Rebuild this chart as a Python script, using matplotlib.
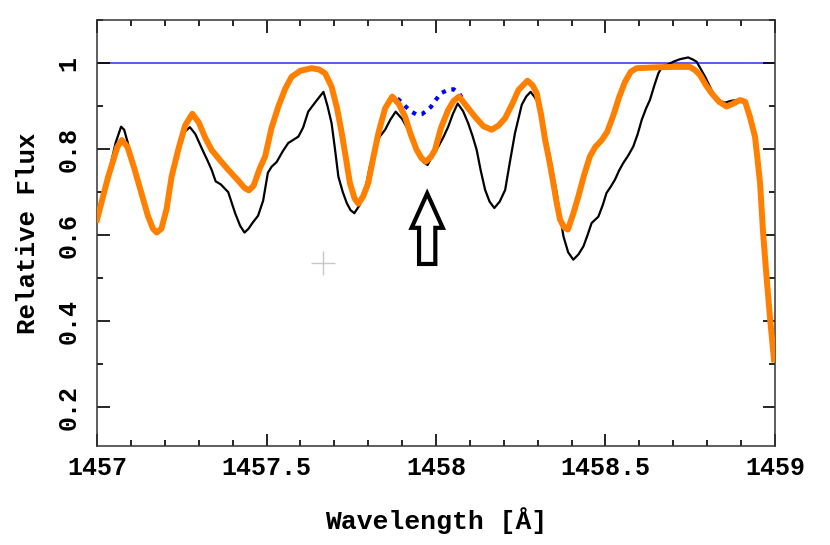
import matplotlib
matplotlib.use("Agg")
import matplotlib.pyplot as plt
from matplotlib.patches import Polygon
from matplotlib.ticker import MultipleLocator

# observed spectrum (black)
obs_wave = [1457.000, 1457.033, 1457.055, 1457.071, 1457.080, 1457.091, 1457.110, 1457.130, 1457.150, 1457.165,
            1457.176, 1457.190, 1457.205, 1457.220, 1457.240, 1457.258, 1457.274, 1457.290, 1457.310, 1457.325,
            1457.338, 1457.350, 1457.365, 1457.387, 1457.407, 1457.422, 1457.435, 1457.447, 1457.460, 1457.475,
            1457.490, 1457.504, 1457.515, 1457.530, 1457.548, 1457.564, 1457.580, 1457.594, 1457.608, 1457.623,
            1457.645, 1457.668, 1457.680, 1457.692, 1457.702, 1457.712, 1457.725, 1457.737, 1457.748, 1457.759,
            1457.775, 1457.791, 1457.805, 1457.820, 1457.835, 1457.850, 1457.865, 1457.881, 1457.900, 1457.918,
            1457.933, 1457.948, 1457.962, 1457.975, 1457.990, 1458.007, 1458.022, 1458.036, 1458.050, 1458.064,
            1458.080, 1458.095, 1458.108, 1458.120, 1458.132, 1458.145, 1458.158, 1458.172, 1458.188, 1458.204,
            1458.218, 1458.233, 1458.253, 1458.266, 1458.279, 1458.290, 1458.302, 1458.317, 1458.332, 1458.345,
            1458.356, 1458.366, 1458.376, 1458.390, 1458.405, 1458.420, 1458.435, 1458.447, 1458.459, 1458.479,
            1458.492, 1458.503, 1458.515, 1458.528, 1458.540, 1458.552, 1458.567, 1458.582, 1458.595, 1458.607,
            1458.620, 1458.631, 1458.645, 1458.656, 1458.668, 1458.680, 1458.700, 1458.720, 1458.744, 1458.758,
            1458.769, 1458.782, 1458.794, 1458.808, 1458.823, 1458.838, 1458.853, 1458.870, 1458.887, 1458.900,
            1458.912, 1458.926, 1458.941, 1458.956, 1458.965, 1458.975, 1458.985, 1458.997]
obs_flux = [0.640, 0.740, 0.815, 0.852, 0.845, 0.814, 0.755, 0.700, 0.645, 0.612,
            0.604, 0.612, 0.660, 0.736, 0.800, 0.840, 0.851, 0.835, 0.800, 0.775,
            0.752, 0.725, 0.718, 0.700, 0.652, 0.622, 0.606, 0.615, 0.630, 0.645,
            0.680, 0.745, 0.759, 0.770, 0.795, 0.814, 0.822, 0.829, 0.850, 0.887,
            0.910, 0.933, 0.900, 0.860, 0.800, 0.736, 0.700, 0.674, 0.658, 0.651,
            0.670, 0.705, 0.760, 0.806, 0.830, 0.845, 0.868, 0.887, 0.870, 0.845,
            0.818, 0.790, 0.770, 0.763, 0.785, 0.806, 0.828, 0.852, 0.882, 0.906,
            0.888, 0.860, 0.830, 0.798, 0.750, 0.705, 0.678, 0.663, 0.678, 0.705,
            0.770, 0.837, 0.903, 0.922, 0.933, 0.922, 0.906, 0.855, 0.798, 0.745,
            0.698, 0.645, 0.597, 0.560, 0.543, 0.555, 0.574, 0.600, 0.628, 0.643,
            0.670, 0.698, 0.712, 0.729, 0.750, 0.767, 0.785, 0.806, 0.835, 0.868,
            0.895, 0.914, 0.950, 0.976, 0.993, 0.995, 1.003, 1.009, 1.013, 1.008,
            1.003, 0.985, 0.968, 0.945, 0.922, 0.912, 0.908, 0.912, 0.914, 0.914,
            0.910, 0.875, 0.829, 0.721, 0.605, 0.500, 0.405, 0.330]

# model spectra (orange and blue dotted share the wavelength grid)
model_wave = [1457.000, 1457.033, 1457.060, 1457.073, 1457.090, 1457.110, 1457.130, 1457.150, 1457.165, 1457.176,
              1457.190, 1457.205, 1457.220, 1457.240, 1457.260, 1457.281, 1457.300, 1457.320, 1457.338, 1457.362,
              1457.387, 1457.415, 1457.435, 1457.448, 1457.462, 1457.480, 1457.496, 1457.515, 1457.535, 1457.555,
              1457.574, 1457.600, 1457.633, 1457.655, 1457.673, 1457.692, 1457.708, 1457.722, 1457.735, 1457.746,
              1457.760, 1457.771, 1457.785, 1457.800, 1457.815, 1457.830, 1457.850, 1457.871, 1457.890, 1457.909,
              1457.925, 1457.943, 1457.958, 1457.970, 1457.985, 1457.997, 1458.015, 1458.036, 1458.052, 1458.068,
              1458.090, 1458.115, 1458.140, 1458.164, 1458.185, 1458.204, 1458.225, 1458.243, 1458.270, 1458.285,
              1458.297, 1458.310, 1458.322, 1458.335, 1458.346, 1458.356, 1458.366, 1458.378, 1458.389, 1458.405,
              1458.420, 1458.437, 1458.454, 1458.470, 1458.489, 1458.505, 1458.523, 1458.540, 1458.558, 1458.575,
              1458.592, 1458.650, 1458.700, 1458.749, 1458.765, 1458.779, 1458.795, 1458.813, 1458.835, 1458.857,
              1458.875, 1458.897, 1458.912, 1458.926, 1458.941, 1458.948, 1458.956, 1458.965, 1458.975, 1458.985,
              1458.997]
model2_flux = [0.636, 0.736, 0.805, 0.821, 0.805, 0.755, 0.700, 0.645, 0.615, 0.606,
               0.615, 0.660, 0.736, 0.800, 0.855, 0.882, 0.862, 0.825, 0.798, 0.775,
               0.752, 0.728, 0.710, 0.704, 0.715, 0.755, 0.783, 0.850, 0.899, 0.940,
               0.968, 0.982, 0.988, 0.985, 0.976, 0.945, 0.895, 0.837, 0.775, 0.721,
               0.685, 0.673, 0.690, 0.721, 0.780, 0.837, 0.895, 0.922, 0.905, 0.875,
               0.835, 0.798, 0.778, 0.771, 0.782, 0.798, 0.850, 0.891, 0.912, 0.922,
               0.900, 0.875, 0.853, 0.845, 0.855, 0.872, 0.905, 0.937, 0.959, 0.948,
               0.930, 0.880, 0.821, 0.770, 0.721, 0.675, 0.636, 0.618, 0.613, 0.650,
               0.690, 0.740, 0.783, 0.805, 0.821, 0.840, 0.878, 0.920, 0.957, 0.980,
               0.988, 0.990, 0.991, 0.991, 0.983, 0.972, 0.950, 0.930, 0.910, 0.899,
               0.905, 0.914, 0.910, 0.875, 0.829, 0.780, 0.721, 0.605, 0.504, 0.411,
               0.311]
model1_flux = [0.636, 0.736, 0.805, 0.821, 0.805, 0.755, 0.700, 0.645, 0.615, 0.606,
               0.615, 0.660, 0.736, 0.800, 0.855, 0.882, 0.862, 0.825, 0.798, 0.775,
               0.752, 0.728, 0.710, 0.704, 0.715, 0.755, 0.783, 0.850, 0.899, 0.940,
               0.968, 0.982, 0.988, 0.985, 0.976, 0.945, 0.895, 0.837, 0.775, 0.721,
               0.685, 0.673, 0.690, 0.721, 0.780, 0.837, 0.895, 0.922, 0.915, 0.900,
               0.888, 0.880, 0.881, 0.888, 0.898, 0.912, 0.930, 0.938, 0.939, 0.930,
               0.900, 0.875, 0.853, 0.845, 0.855, 0.872, 0.905, 0.937, 0.959, 0.948,
               0.930, 0.880, 0.821, 0.770, 0.721, 0.675, 0.636, 0.618, 0.613, 0.650,
               0.690, 0.740, 0.783, 0.805, 0.821, 0.840, 0.878, 0.920, 0.957, 0.980,
               0.988, 0.990, 0.991, 0.991, 0.983, 0.972, 0.950, 0.930, 0.910, 0.899,
               0.905, 0.914, 0.910, 0.875, 0.829, 0.780, 0.721, 0.605, 0.504, 0.411,
               0.311]

continuum = 1.0
cross_pos = (1457.667, 0.536)
# hollow arrow marking the feature
arrow_x = 1457.974
arrow_tip = 0.697
arrow_neck = 0.617
arrow_base = 0.533
head_half = 0.046
shaft_half = 0.024

plt.rcParams["font.family"] = ["Liberation Mono", "DejaVu Sans Mono"]
plt.rcParams["font.weight"] = "bold"
plt.rcParams["axes.labelweight"] = "bold"

fig = plt.figure(figsize=(8.3, 5.45), dpi=100)
ax = fig.add_axes([0.1169, 0.1817, 0.8168, 0.7816])

ax.axhline(continuum, color="#2b2bff", lw=1.1, zorder=1)
ax.plot(model_wave, model1_flux, color="#0000ff", lw=3.0, ls=(0, (1, 1.4)), zorder=2)
ax.plot(obs_wave, obs_flux, color="black", lw=1.6, zorder=3)
ax.plot(model_wave, model2_flux, color="#ff8000", lw=4.3, zorder=4, solid_joinstyle="round")
ax.plot(*cross_pos, marker="+", ms=17, mew=1.0, color="#c8c8c8", zorder=1)

arrow_pts = [(arrow_x, arrow_tip), (arrow_x + head_half, arrow_neck), (arrow_x + shaft_half, arrow_neck),
             (arrow_x + shaft_half, arrow_base), (arrow_x - shaft_half, arrow_base),
             (arrow_x - shaft_half, arrow_neck), (arrow_x - head_half, arrow_neck)]
ax.add_patch(Polygon(arrow_pts, closed=True, fc="white", ec="black", lw=3, joinstyle="miter", zorder=5))

ax.set_xlim(1457, 1459)
ax.set_ylim(0.11, 1.1)
ax.xaxis.set_major_locator(MultipleLocator(0.5))
ax.xaxis.set_minor_locator(MultipleLocator(0.1))
ax.yaxis.set_major_locator(MultipleLocator(0.2))
ax.yaxis.set_minor_locator(MultipleLocator(0.1))
ax.set_xticks([1457, 1457.5, 1458, 1458.5, 1459])
ax.set_xticklabels(["1457", "1457.5", "1458", "1458.5", "1459"])
ax.set_yticks([0.2, 0.4, 0.6, 0.8, 1.0])
ax.set_yticklabels(["0.2", "0.4", "0.6", "0.8", "1"], rotation=90, va="center")

ax.tick_params(which="both", direction="in", top=True, right=True, width=1.2, labelsize=18)
ax.tick_params(which="major", length=9)
ax.tick_params(which="minor", length=4.5)
ax.tick_params(axis="x", pad=7)
ax.tick_params(axis="y", pad=12)
for sp in ax.spines.values():
    sp.set_linewidth(1.1)
    sp.set_color("#333333")

ax.set_xlabel("Wavelength [Å]", fontsize=19, labelpad=20)
ax.set_ylabel("Relative Flux", fontsize=18.5, labelpad=12)

fig.savefig("out.png", dpi=100)
